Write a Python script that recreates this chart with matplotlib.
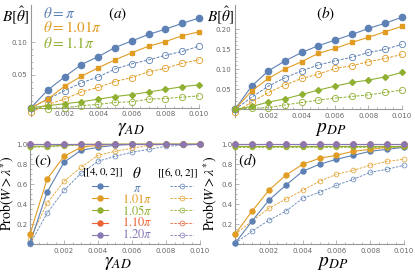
import numpy as np
import matplotlib
matplotlib.use("Agg")
import matplotlib.pyplot as plt
from matplotlib.lines import Line2D

plt.rcParams['mathtext.fontset'] = 'stix'
plt.rcParams['font.family'] = ['DejaVu Sans']

# colours (Mathematica default palette)
BLUE = '#5E81B5'
ORANGE = '#E19C24'
GREEN = '#8FB032'
RED = '#EB6235'
PURPLE = '#8778B3'

# x values
gamma = [0.0, 0.001, 0.002, 0.003, 0.004, 0.005, 0.006, 0.007, 0.008, 0.009, 0.010]
p_dp = [0.0, 0.001, 0.002, 0.003, 0.004, 0.005, 0.006, 0.007, 0.008, 0.009, 0.010]

# (a) bias vs gamma_AD, [[4,0,2]] solid / [[6,0,2]] dashed
a_pi_402 = [0, 0.027, 0.047, 0.066, 0.078, 0.092, 0.102, 0.112, 0.120, 0.129, 0.137]
a_101_402 = [0, 0.013, 0.033, 0.048, 0.061, 0.073, 0.084, 0.094, 0.101, 0.110, 0.116]
a_11_402 = [0, 0.003, 0.006, 0.009, 0.013, 0.017, 0.020, 0.024, 0.028, 0.032, 0.035]
a_pi_602 = [0, 0.013, 0.026, 0.038, 0.047, 0.059, 0.067, 0.073, 0.080, 0.086, 0.094]
a_101_602 = [-0.007, 0.005, 0.013, 0.024, 0.031, 0.040, 0.046, 0.055, 0.060, 0.068, 0.073]
a_11_602 = [0, -0.002, 0.000, 0.003, 0.005, 0.008, 0.009, 0.013, 0.014, 0.016, 0.018]

# (b) bias vs p_DP
b_pi_402 = [0, 0.058, 0.096, 0.121, 0.142, 0.159, 0.173, 0.187, 0.202, 0.215, 0.230]
b_101_402 = [0, 0.046, 0.077, 0.101, 0.119, 0.140, 0.152, 0.167, 0.180, 0.194, 0.207]
b_11_402 = [0, 0.007, 0.018, 0.026, 0.037, 0.048, 0.058, 0.067, 0.073, 0.081, 0.092]
b_pi_602 = [0, 0.030, 0.058, 0.079, 0.096, 0.111, 0.121, 0.130, 0.142, 0.150, 0.162]
b_101_602 = [-0.008, 0.018, 0.042, 0.061, 0.077, 0.088, 0.102, 0.109, 0.119, 0.127, 0.137]
b_11_602 = [0, 0.003, 0.004, 0.011, 0.017, 0.023, 0.028, 0.032, 0.036, 0.042, 0.048]

# (c) Prob(W > lambda*) vs gamma_AD
c_402 = {
    'pi': [0.01, 0.52, 0.82, 0.94, 0.97, 0.99, 1.0, 1.0, 1.0, 1.0, 1.0],
    '101': [0.10, 0.65, 0.88, 0.97, 0.99, 1.0, 1.0, 1.0, 1.0, 1.0, 1.0],
    '105': [0.98, 0.98, 0.99, 1.0, 1.0, 1.0, 1.0, 1.0, 1.0, 1.0, 1.0],
    '110': [1.0, 1.0, 1.0, 1.0, 1.0, 1.0, 1.0, 1.0, 1.0, 1.0, 1.0],
    '120': [1.0, 1.0, 1.0, 1.0, 1.0, 1.0, 1.0, 1.0, 1.0, 1.0, 1.0],
}
c_602 = {
    'pi': [0.0, 0.31, 0.54, 0.71, 0.83, 0.88, 0.92, 0.95, 0.98, 0.99, 1.0],
    '101': [0.05, 0.41, 0.63, 0.77, 0.89, 0.93, 0.96, 0.99, 1.0, 1.0, 1.0],
    '105': [0.97, 0.975, 0.985, 0.99, 1.0, 1.0, 1.0, 1.0, 1.0, 1.0, 1.0],
    '110': [1.0, 1.0, 1.0, 1.0, 1.0, 1.0, 1.0, 1.0, 1.0, 1.0, 1.0],
    '120': [1.0, 1.0, 1.0, 1.0, 1.0, 1.0, 1.0, 1.0, 1.0, 1.0, 1.0],
}
# (d) Prob(W > lambda*) vs p_DP
d_402 = {
    'pi': [0.01, 0.23, 0.44, 0.59, 0.73, 0.80, 0.85, 0.89, 0.93, 0.95, 0.97],
    '101': [0.10, 0.33, 0.54, 0.69, 0.80, 0.86, 0.89, 0.93, 0.95, 0.97, 0.98],
    '105': [0.98, 0.98, 0.98, 0.98, 0.98, 0.98, 0.98, 0.98, 0.98, 0.98, 0.98],
    '110': [1.0, 1.0, 1.0, 1.0, 1.0, 1.0, 1.0, 1.0, 1.0, 1.0, 1.0],
    '120': [1.0, 1.0, 1.0, 1.0, 1.0, 1.0, 1.0, 1.0, 1.0, 1.0, 1.0],
}
d_602 = {
    'pi': [0.01, 0.13, 0.24, 0.33, 0.46, 0.52, 0.59, 0.65, 0.72, 0.75, 0.79],
    '101': [0.10, 0.23, 0.36, 0.45, 0.54, 0.63, 0.70, 0.74, 0.79, 0.83, 0.85],
    '105': [0.97, 0.97, 0.97, 0.97, 0.97, 0.97, 0.97, 0.97, 0.97, 0.97, 0.97],
    '110': [1.0, 1.0, 1.0, 1.0, 1.0, 1.0, 1.0, 1.0, 1.0, 1.0, 1.0],
    '120': [1.0, 1.0, 1.0, 1.0, 1.0, 1.0, 1.0, 1.0, 1.0, 1.0, 1.0],
}
theta_keys = ['pi', '101', '105', '110', '120']
theta_labels = [r'$\pi$', r'$1.01\pi$', r'$1.05\pi$', r'$1.10\pi$', r'$1.20\pi$']
theta_colors = [BLUE, ORANGE, GREEN, RED, PURPLE]

W, H = 415, 274
fig = plt.figure(figsize=(W / 100, H / 100), dpi=100)


def px_axes(left, top, width, height):
    return fig.add_axes([left / W, 1 - (top + height) / H, width / W, height / H])


def style(ax, xmaj, ymaj, ymin_step, xfmt, yfmt, ypad=2.5):
    for s in ['top', 'right']:
        ax.spines[s].set_visible(False)
    for s in ['left', 'bottom']:
        ax.spines[s].set_position(('data', 0))
        ax.spines[s].set_color('#999999')
        ax.spines[s].set_linewidth(0.8)
    ax.set_xticks(xmaj)
    ax.set_xticklabels([xfmt % v for v in xmaj])
    ax.set_xticks(np.arange(0, 0.01001, 0.0005), minor=True)
    ax.set_yticks(ymaj)
    ax.set_yticklabels([yfmt % v for v in ymaj])
    ax.set_yticks(np.arange(ymin_step, ymaj[-1] + 1e-9, ymin_step), minor=True)
    ax.tick_params(which='both', direction='in', color='#999999', width=0.5,
                   labelsize=5, labelcolor='#666666')
    ax.tick_params(which='major', length=3)
    ax.tick_params(which='minor', length=1.5)
    ax.tick_params(axis='x', pad=2.5)
    ax.tick_params(axis='y', pad=ypad)
    ax.patch.set_visible(False)


def bias_panel(ax, x, s402, s602):
    ax.plot(x, s402[0], '-o', color=BLUE, ms=4.5, lw=0.8, clip_on=False, zorder=5)
    ax.plot(x, s402[1], '-s', color=ORANGE, ms=3.3, lw=0.8, clip_on=False, zorder=5)
    ax.plot(x, s402[2], '-D', color=GREEN, ms=3.0, lw=0.8, clip_on=False, zorder=5)
    for ys, c in zip(s602, [BLUE, ORANGE, GREEN]):
        ax.plot(x, ys, '--o', color=c, ms=4.5, mfc='none', mew=0.6, lw=0.7,
                dashes=(3, 1.5), clip_on=False, zorder=4)


def prob_panel(ax, x, s402, s602):
    for k, c in zip(theta_keys, theta_colors):
        ax.plot(x, s602[k], '--o', color=c, ms=3.5, mfc='none', mew=0.5, lw=0.6,
                dashes=(3, 1.5), clip_on=False, zorder=4)
    for k, c in zip(theta_keys, theta_colors):
        ax.plot(x, s402[k], '-o', color=c, ms=3.6, lw=0.8, clip_on=False, zorder=5)


# (a)
ax_a = px_axes(31, 5, 168, 110.5)
bias_panel(ax_a, gamma, [a_pi_402, a_101_402, a_11_402], [a_pi_602, a_101_602, a_11_602])
ax_a.set_xlim(0, 0.010)
ax_a.set_ylim(-0.012, 0.157)
style(ax_a, [0.002, 0.004, 0.006, 0.008, 0.010], [0.05, 0.10], 0.01, '%.3f', '%.2f')

# (b)
ax_b = px_axes(235, 5.3, 166.7, 112)
bias_panel(ax_b, p_dp, [b_pi_402, b_101_402, b_11_402], [b_pi_602, b_101_602, b_11_602])
ax_b.set_xlim(0, 0.010)
ax_b.set_ylim(-0.02, 0.26)
style(ax_b, [0.002, 0.004, 0.006, 0.008, 0.010], [0.05, 0.10, 0.15, 0.20], 0.01, '%.3f', '%.2f')

# (c)
ax_c = px_axes(30, 141.3, 170, 103)
prob_panel(ax_c, gamma, c_402, c_602)
ax_c.set_xlim(0, 0.010)
ax_c.set_ylim(0, 1.03)
style(ax_c, [0.002, 0.004, 0.006, 0.008, 0.010], [0.2, 0.4, 0.6, 0.8, 1.0], 0.05, '%.3f', '%.1f',
      ypad=1.5)

# (d)
ax_d = px_axes(235, 141.3, 169, 103)
prob_panel(ax_d, p_dp, d_402, d_602)
ax_d.set_xlim(0, 0.010)
ax_d.set_ylim(0, 1.03)
style(ax_d, [0.002, 0.004, 0.006, 0.008, 0.010], [0.2, 0.4, 0.6, 0.8, 1.0], 0.05, '%.3f', '%.1f',
      ypad=1.5)


def ftext(x, y, s, **kw):
    fig.text(x / W, 1 - y / H, s, **kw)


# axis labels
ftext(16, 15, r'$B[\hat{\theta}]$', fontsize=11, ha='center', va='center')
ftext(221, 15, r'$B[\hat{\theta}]$', fontsize=11, ha='center', va='center')
ftext(131, 128.5, r'$\gamma_{AD}$', fontsize=14, ha='center', va='center')
ftext(331, 128, r'$p_{DP}$', fontsize=14, ha='center', va='center')
ftext(118, 262.5, r'$\gamma_{AD}$', fontsize=14, ha='center', va='center')
ftext(333, 263, r'$p_{DP}$', fontsize=14, ha='center', va='center')
ftext(8, 193, r'$\mathrm{Prob}(W>\lambda^{*})$', fontsize=10, ha='center', va='center', rotation=90)
ftext(211, 193, r'$\mathrm{Prob}(W>\lambda^{*})$', fontsize=10, ha='center', va='center', rotation=90)

# panel tags
ftext(118, 14, r'$(a)$', fontsize=11, ha='center', va='center')
ftext(326, 14, r'$(b)$', fontsize=11, ha='center', va='center')
ftext(43, 161, r'$(c)$', fontsize=11, ha='center', va='center')
ftext(248, 161, r'$(d)$', fontsize=11, ha='center', va='center')

# (a) theta legend
for i, (s, c) in enumerate(zip([r'$\theta=\pi$', r'$\theta=1.01\pi$', r'$\theta=1.1\pi$'],
                               [BLUE, ORANGE, GREEN])):
    ftext(43, 13 + 15 * i, s, fontsize=11, color=c, ha='left', va='center')

# (c) legend: filled = [[4,0,2]], open = [[6,0,2]]
h402 = [Line2D([], [], color=c, marker='o', ms=3.6, lw=0.8) for c in theta_colors]
h602 = [Line2D([], [], color=c, marker='o', ms=3.5, mfc='none', mew=0.5, lw=0.6,
               ls='--', dashes=(3, 1.5)) for c in theta_colors]
leg1 = ax_c.legend(h402, [''] * 5, loc='upper left', bbox_to_anchor=(92 / W, 1 - 182 / H),
                   bbox_transform=fig.transFigure, frameon=False, fontsize=6,
                   handlelength=1.9, handletextpad=0, borderpad=0, borderaxespad=0,
                   labelspacing=0.38)
ax_c.add_artist(leg1)
leg2 = ax_c.legend(h602, [''] * 5, loc='upper left', bbox_to_anchor=(170 / W, 1 - 182 / H),
                   bbox_transform=fig.transFigure, frameon=False, fontsize=6,
                   handlelength=2.8, handletextpad=0, borderpad=0, borderaxespad=0,
                   labelspacing=0.38)
ftext(103, 173, r'$[[4,0,2]]$', fontsize=8, ha='center', va='center')
ftext(137, 173, r'$\theta$', fontsize=11, ha='center', va='center')
ftext(178, 173, r'$[[6,0,2]]$', fontsize=8, ha='center', va='center')
for i, (s, c) in enumerate(zip(theta_labels, theta_colors)):
    ftext(137, 188 + 11.5 * i, s, fontsize=9, color=c, ha='center', va='center')

fig.savefig('out.png', dpi=100)
